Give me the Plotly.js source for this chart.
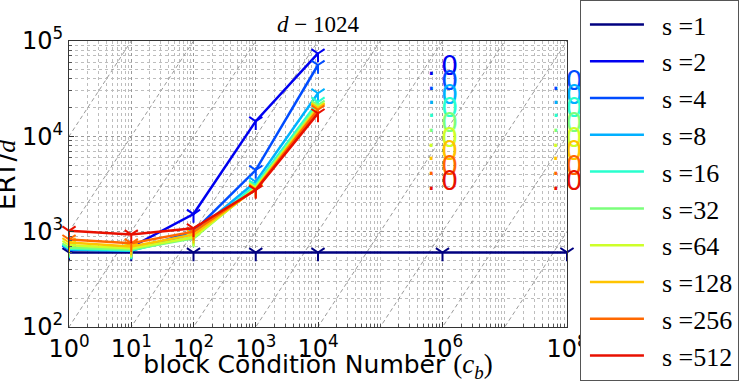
<!DOCTYPE html>
<html>
<head>
<meta charset="utf-8">
<script src="https://cdn.plot.ly/plotly-3.0.1.min.js"></script>
<style>
  html, body { margin: 0; padding: 0; background: #fff; }
  #chart { width: 742px; height: 383px; }
</style>
</head>
<body>
<div id="chart"></div>
<script>
// Block condition numbers tested for every block size s
const condNumbers = [1, 10, 100, 1000, 10000];
// s = 1 was also run at the two largest condition numbers
const condNumbersS1 = [1, 10, 100, 1000, 10000, 1e6, 1e8];

const sLabels = ["s =1", "s =2", "s =4", "s =8", "s =16", "s =32", "s =64", "s =128", "s =256", "s =512"];
const sColors = ["#000080", "#0000f0", "#004cff", "#00b0ff", "#29ffce", "#7bff7b", "#ceff29", "#ffc400", "#ff6800", "#e81000"];

// ERT / d for each block size
const ertS1   = [605, 605, 604, 605, 605, 605, 606];
const ertS2   = [640, 690, 1530, 14400, 74000];
const ertS4   = [650, 640, 1000, 4430, 56000];
const ertS8   = [650, 630, 960, 3340, 28300];
const ertS16  = [660, 640, 880, 3090, 23000];
const ertS32  = [680, 650, 850, 2950, 21300];
const ertS64  = [720, 670, 870, 2880, 20300];
const ertS128 = [770, 700, 930, 2810, 19800];
const ertS256 = [830, 755, 1000, 2770, 19000];
const ertS512 = [1020, 935, 1085, 2735, 17400];

// Runs without success: a ".0" label per block size at c_b = 1e6 and 1e8
const failLabelY = [51700, 36000, 26000, 18900, 13100, 9130, 6630, 4620, 3210]; // s = 2 .. 512
const failAt1e6 = [1, 2, 3, 4, 5, 6, 7, 8, 9];   // indices into sLabels
const failAt1e8 = [2, 3, 4, 5, 6, 7, 8, 9];

// Reference lines ERT/d = 10^k * c_b
const guideExponents = [-6, -5, -4, -3, -2, -1, 0, 1, 2, 3, 4];

const ertSeries = [ertS1, ertS2, ertS4, ertS8, ertS16, ertS32, ertS64, ertS128, ertS256, ertS512];

const traces = [];

guideExponents.forEach(k => {
  const xs = [1e-4, 1e12];
  traces.push({
    x: xs, y: xs.map(v => v * Math.pow(10, k)),
    mode: "lines", type: "scatter",
    line: { color: "#9a9a9a", width: 1, dash: "4px,3px" },
    hoverinfo: "skip", showlegend: false
  });
});

ertSeries.forEach((ys, i) => {
  traces.push({
    x: i === 0 ? condNumbersS1 : condNumbers,
    y: ys,
    name: sLabels[i],
    type: "scatter",
    mode: "lines+markers",
    line: { color: sColors[i], width: 2.5 },
    marker: { symbol: "y-down-open", size: 11, color: sColors[i],
              line: { color: sColors[i], width: 2 } },
    cliponaxis: false,
    showlegend: false
  });
});

// legend entries show the line only
sLabels.forEach((lab, i) => {
  traces.push({
    x: [null], y: [null], type: "scatter", mode: "lines",
    name: "\u00a0\u00a0" + lab,
    line: { color: sColors[i], width: 2.5 },
    hoverinfo: "skip", showlegend: true
  });
});

const failX = [], failY = [], failC = [];
failAt1e6.forEach((si, j) => { failX.push(1e6); failY.push(failLabelY[j]); failC.push(sColors[si]); });
failAt1e8.forEach((si) => { failX.push(1e8); failY.push(failLabelY[si - 1]); failC.push(sColors[si]); });
traces.push({
  x: failX, y: failY, mode: "text", type: "scatter",
  text: failX.map(() => ".\u20090"),
  textposition: "middle center",
  textfont: { family: "DejaVu Sans", size: 27, color: failC },
  cliponaxis: false, showlegend: false, hoverinfo: "skip"
});

// minor ticks 2..9 in every decade
function minorVals(lo, hi) {
  const out = [];
  for (let e = lo; e < hi; e++) {
    for (let m = 2; m <= 9; m++) out.push(m * Math.pow(10, e));
    if (e > lo) out.push(Math.pow(10, e));
  }
  return out;
}

const xMajor = [1, 10, 100, 1000, 10000, 1e6, 1e8];
const xMajorText = ["10<sup>0</sup>", "10<sup>1</sup>", "10<sup>2</sup>", "10<sup>3</sup>", "10<sup>4</sup>", "10<sup>6</sup>", "10<sup>8</sup>"];
const yMajor = [100, 1000, 10000, 100000];
const yMajorText = ["10<sup>2</sup>", "10<sup>3</sup>", "10<sup>4</sup>", "10<sup>5</sup>"];

const tickFont = { family: "DejaVu Sans", size: 24, color: "#000" };

const layout = {
  width: 742, height: 383,
  margin: { l: 69, r: 175, t: 41, b: 56, autoexpand: false },
  paper_bgcolor: "#fff", plot_bgcolor: "#fff",
  showlegend: true,
  title: {
    text: "<i>d</i> − 1024",
    font: { family: "Liberation Serif", size: 23, color: "#000" },
    x: 0.5, xref: "paper", xanchor: "center",
    y: 1, yref: "paper", yanchor: "bottom", pad: { b: 9 }
  },
  xaxis: {
    type: "log", range: [0, 8],
    tickmode: "array", tickvals: xMajor, ticktext: xMajorText,
    tickfont: tickFont,
    ticks: "inside", ticklen: 5, tickcolor: "#333",
    showline: true, mirror: true, linecolor: "#333", linewidth: 1,
    showgrid: true, gridcolor: "#9a9a9a", griddash: "dot", gridwidth: 1,
    zeroline: false,
    minor: { tickmode: "array", tickvals: minorVals(0, 8), ticks: "inside", ticklen: 3,
             tickcolor: "#555", showgrid: true, gridcolor: "#bdbdbd", griddash: "dot", gridwidth: 1 },
    title: {
      text: "block Condition Number <span style='font-family:Liberation Serif;font-size:27px'>(<i>c</i><sub><i>b</i></sub>)</span>",
      font: { family: "DejaVu Sans", size: 25, color: "#000" },
      standoff: 3
    }
  },
  yaxis: {
    type: "log", range: [2, 5],
    tickmode: "array", tickvals: yMajor, ticktext: yMajorText,
    tickfont: tickFont,
    ticks: "inside", ticklen: 5, tickcolor: "#333",
    showline: true, mirror: true, linecolor: "#333", linewidth: 1,
    showgrid: true, gridcolor: "#9a9a9a", griddash: "dot", gridwidth: 1,
    zeroline: false,
    minor: { tickmode: "array", tickvals: minorVals(2, 5), ticks: "inside", ticklen: 3,
             tickcolor: "#555", showgrid: true, gridcolor: "#bdbdbd", griddash: "dot", gridwidth: 1 }
  },
  annotations: [{
    text: "ERT/<span style='font-family:Liberation Serif'><i>d</i></span>",
    font: { family: "DejaVu Sans", size: 26, color: "#000" },
    textangle: -90, showarrow: false,
    xref: "paper", x: (6 - 69) / 498, xanchor: "center",
    yref: "paper", y: (327 - 175) / 286, yanchor: "middle"
  }],
  legend: {
    x: 1.026, xanchor: "left", xref: "paper",
    y: 1 + 4 / 383, yanchor: "top", yref: "container",
    maxheight: 383,
    bgcolor: "#fff", bordercolor: "#555", borderwidth: 1,
    font: { family: "Liberation Serif, serif", size: 26, color: "#000" },
    traceorder: "normal",
    itemwidth: 54, indentation: 4
  }
};

Plotly.newPlot("chart", traces, layout, { displayModeBar: false, staticPlot: true });
</script>
</body>
</html>
